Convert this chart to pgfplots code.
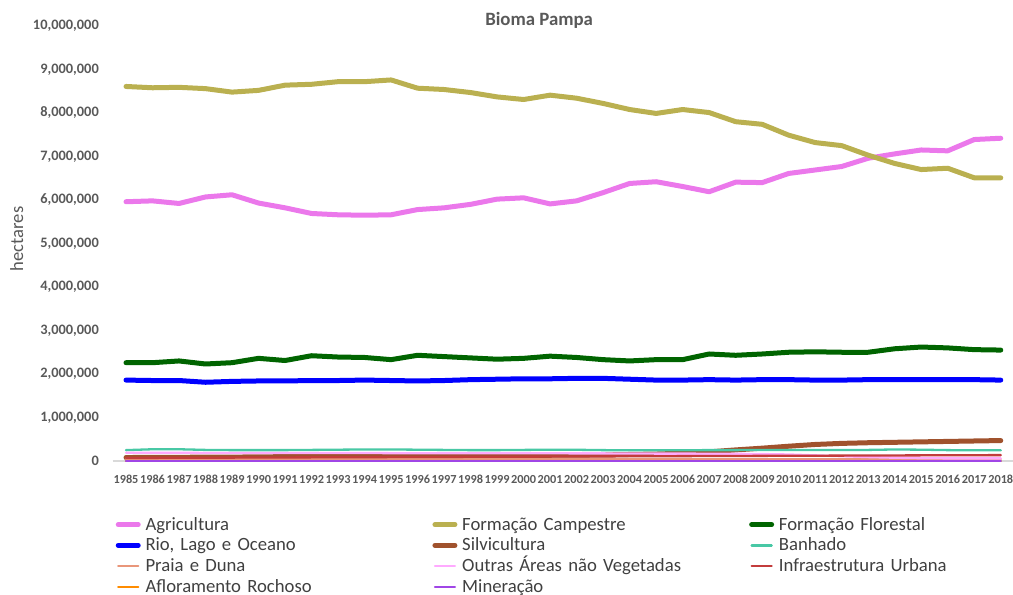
\documentclass[border=0pt]{standalone}
\usepackage{pgfplots}
\pgfplotsset{compat=1.18}
\usepackage{pgfplotstable}
\usepackage{fontspec}
\setmainfont{Carlito}
\definecolor{tickgray}{HTML}{595959}
\definecolor{legendgray}{HTML}{404040}
\definecolor{axisgray}{HTML}{D9D9D9}
\definecolor{cAgri}{RGB}{235,120,235}
\definecolor{cCamp}{RGB}{186,176,80}
\definecolor{cFlor}{RGB}{0,100,0}
\definecolor{cRio}{RGB}{0,0,255}
\definecolor{cSilv}{RGB}{160,82,45}
\definecolor{cBanh}{RGB}{72,200,165}
\definecolor{cPraia}{RGB}{233,150,122}
\definecolor{cOutras}{RGB}{255,170,255}
\definecolor{cInfra}{RGB}{195,60,60}
\definecolor{cAflor}{RGB}{255,140,0}
\definecolor{cMiner}{RGB}{160,70,230}

\pgfplotstableread{
year agri camp flor rio silv banh praia outras infra aflor miner
1985 5960000 8610000 2260000 1860000 80000 250000 50000 190000 70000 8000 3000
1986 5980000 8580000 2260000 1850000 82000 270000 50000 190000 72000 8000 3000
1987 5920000 8590000 2300000 1850000 85000 270000 50000 190000 74000 8000 3000
1988 6070000 8560000 2230000 1810000 88000 255000 50000 185000 76000 8000 3000
1989 6120000 8480000 2260000 1830000 90000 250000 50000 185000 78000 8000 3000
1990 5930000 8520000 2360000 1840000 95000 250000 50000 185000 80000 8000 3000
1991 5820000 8640000 2310000 1840000 100000 250000 50000 185000 82000 8000 3000
1992 5690000 8660000 2420000 1850000 105000 255000 50000 185000 84000 8000 3000
1993 5660000 8720000 2390000 1850000 110000 260000 50000 185000 86000 8000 3000
1994 5650000 8720000 2380000 1860000 112000 265000 50000 185000 88000 8000 3000
1995 5660000 8760000 2330000 1850000 115000 265000 50000 180000 90000 8000 3000
1996 5780000 8570000 2430000 1840000 118000 260000 50000 180000 92000 8000 3000
1997 5820000 8540000 2400000 1850000 120000 255000 50000 180000 94000 8000 3000
1998 5900000 8470000 2370000 1870000 122000 250000 50000 180000 96000 8000 3000
1999 6020000 8370000 2340000 1880000 125000 250000 50000 180000 98000 8000 3000
2000 6050000 8310000 2360000 1890000 128000 255000 50000 178000 100000 8000 3000
2001 5910000 8410000 2410000 1890000 132000 260000 50000 178000 102000 8000 3000
2002 5980000 8340000 2380000 1900000 136000 258000 50000 175000 104000 8000 3000
2003 6170000 8220000 2330000 1900000 140000 250000 50000 175000 106000 8000 3000
2004 6380000 8080000 2300000 1880000 150000 245000 50000 172000 108000 8000 3000
2005 6420000 7990000 2330000 1860000 160000 245000 50000 170000 110000 8000 3000
2006 6310000 8080000 2330000 1860000 180000 248000 50000 170000 112000 8000 3000
2007 6190000 8010000 2460000 1870000 210000 250000 50000 168000 114000 8000 3000
2008 6410000 7800000 2430000 1860000 255000 250000 50000 165000 116000 8000 3000
2009 6400000 7740000 2460000 1870000 295000 255000 50000 160000 118000 8000 3000
2010 6610000 7490000 2500000 1870000 340000 255000 50000 150000 120000 8000 3000
2011 6690000 7320000 2510000 1860000 380000 255000 50000 130000 122000 8000 3000
2012 6770000 7250000 2500000 1860000 405000 255000 50000 110000 124000 8000 3000
2013 6960000 7030000 2500000 1870000 420000 255000 50000 90000 126000 8000 3000
2014 7060000 6840000 2580000 1870000 430000 265000 50000 75000 128000 8000 3000
2015 7150000 6700000 2620000 1870000 440000 260000 50000 65000 130000 8000 3000
2016 7130000 6730000 2600000 1870000 450000 250000 50000 60000 132000 8000 3000
2017 7390000 6510000 2560000 1870000 460000 245000 50000 60000 134000 8000 3000
2018 7420000 6510000 2550000 1860000 470000 245000 50000 60000 135000 8000 3000
}\datatable

\begin{document}
\begin{tikzpicture}
\begin{axis}[
  at={(0,0)}, anchor=south west,
  scale only axis, width=901.25bp, height=435bp,
  xmin=1984.5, xmax=2018.5, ymin=0, ymax=10000000,
  xtick={1985,1986,1987,1988,1989,1990,1991,1992,1993,1994,1995,1996,1997,1998,1999,2000,2001,2002,2003,2004,2005,2006,2007,2008,2009,2010,2011,2012,2013,2014,2015,2016,2017,2018},
  ytick={0,1000000,2000000,3000000,4000000,5000000,6000000,7000000,8000000,9000000,10000000},
  scaled y ticks=false,
  axis line style={draw=none},
  tick style={draw=none}, major tick length=0pt,
  /pgf/number format/assume math mode=true,
  x tick label style={font=\bfseries\fontsize{12.3bp}{13bp}\selectfont, text=tickgray, /pgf/number format/1000 sep={}, anchor=north, inner sep=0pt, yshift=-14bp},
  y tick label style={font=\bfseries\fontsize{14.4bp}{15bp}\selectfont, text=tickgray, /pgf/number format/fixed, /pgf/number format/1000 sep={,}, anchor=east, inner sep=0pt, xshift=-13.75bp},
  extra y ticks={0}, extra y tick labels={},
  extra y tick style={grid=major, major grid style={color=axisgray, line width=1.3bp}},
  title={Bioma Pampa},
  title style={at={(axis description cs:0.4731,0.9885)}, anchor=base, font=\bfseries\fontsize{18.8bp}{20bp}\selectfont, text=tickgray},
  ylabel={hectares},
  every axis y label/.style={at={(axis description cs:-0.10655,0.5103)}, rotate=90, anchor=center, font=\fontsize{18.6bp}{20bp}\selectfont, text=tickgray},
  every axis plot/.append style={line join=round, line cap=round, no marks},
  legend columns=3,
  legend cell align=left,
  legend style={at={(0,0)}, anchor=north west, xshift=0.5bp, yshift=-55bp, draw=none, fill=none, inner sep=0pt, outer sep=0pt,
    font=\fontsize{18.7bp}{20.7bp}\selectfont,
    nodes={inner sep=0pt, text height=14bp, text depth=6.7bp, text width=284.4bp, align=left, text=legendgray},
    /tikz/every odd column/.style={column sep=2.3bp},
    /tikz/every even column/.style={column sep=0pt},
    row sep=0pt},
  legend image code/.code={\draw[#1, line cap=round] (2.5bp,1.7bp) -- (22.5bp,1.7bp); \path (0bp,0bp) (25bp,0bp);},
  clip=false,
]
\addplot[cAgri, line width=5bp] table[x=year,y=agri]{\datatable};
\addplot[cCamp, line width=5bp] table[x=year,y=camp]{\datatable};
\addplot[cFlor, line width=5bp] table[x=year,y=flor]{\datatable};
\addplot[cRio, line width=5bp] table[x=year,y=rio]{\datatable};
\addplot[cSilv, line width=5bp] table[x=year,y=silv]{\datatable};
\addplot[cBanh, line width=2.3bp] table[x=year,y=banh]{\datatable};
\addplot[cPraia, line width=2.3bp] table[x=year,y=praia]{\datatable};
\addplot[cOutras, line width=2.3bp] table[x=year,y=outras]{\datatable};
\addplot[cInfra, line width=2.3bp] table[x=year,y=infra]{\datatable};
\addplot[cAflor, line width=2.3bp] table[x=year,y=aflor]{\datatable};
\addplot[cMiner, line width=2.3bp] table[x=year,y=miner]{\datatable};
\legend{Agricultura, Formação Campestre, Formação Florestal, {Rio, Lago e Oceano}, Silvicultura, Banhado, Praia e Duna, Outras Áreas não Vegetadas, Infraestrutura Urbana, Afloramento Rochoso, Mineração}
\end{axis}
\pgfresetboundingbox
\useasboundingbox (-112.75bp,-134bp) rectangle (900.25bp,461bp);
\end{tikzpicture}
\end{document}
